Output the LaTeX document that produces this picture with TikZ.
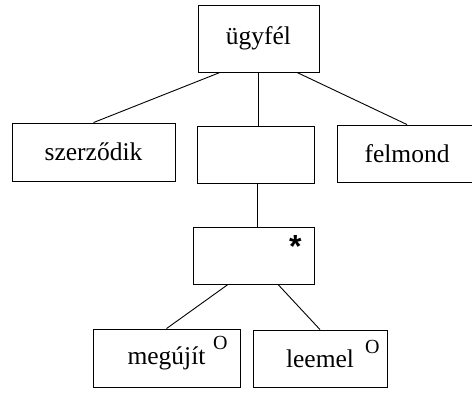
\documentclass[tikz,border=0pt]{standalone}
\usepackage{fontspec}
\setmainfont{Liberation Serif}
\newfontfamily\jelfont{Liberation Sans}
\usetikzlibrary{calc}

\tikzset{
  doboz/.style={draw,line width=0.9bp,inner sep=0pt,font=\fontsize{25.5bp}{30bp}\selectfont},
  jel/.style={inner sep=0pt,font=\fontsize{20bp}{22bp}\selectfont},
  vonal/.style={line width=0.9bp}
}

\begin{document}
\begin{tikzpicture}[x=1bp,y=-1bp]
  \useasboundingbox (0,0) rectangle (472,392);
  % felso szint
  \node[doboz,minimum width=121bp,minimum height=67bp] (ugyfel) at (258.5,38.5) {ügyfél};
  % masodik szint
  \node[doboz,minimum width=163bp,minimum height=58bp] (szerzodik) at (93.5,152) {szerződik};
  \node[doboz,minimum width=117bp,minimum height=57bp] (kozep) at (255.5,154.5) {};
  \node[doboz,minimum width=140bp,minimum height=57bp] (felmond) at (407,153.5) {felmond};
  % ismetles
  \node[doboz,minimum width=121bp,minimum height=57bp] (ismetles) at (253.5,255.5) {};
  \node[jel,anchor=base,font=\jelfont\bfseries\fontsize{32bp}{34bp}\selectfont] (csillag) at ($(ismetles.north east)+(-19,31)$) {*};
  % also szint
  \node[doboz,minimum width=147bp,minimum height=58bp] (megujit) at (166.5,358) {megújít};
  \node[doboz,minimum width=134bp,minimum height=57bp] (leemel) at (320,358.5) {leemel};
  \node[jel] (megujito) at ($(megujit.north east)+(-20,14.5)$) {O};
  \node[jel] (leemelo) at ($(leemel.north east)+(-15,17)$) {O};

  \draw[vonal] ([xshift=-38.5bp]ugyfel.south) -- (szerzodik.north);
  \draw[vonal] (ugyfel.south) -- (ugyfel.south |- kozep.north);
  \draw[vonal] ([xshift=38.5bp]ugyfel.south) -- (felmond.north);
  \draw[vonal] ([xshift=1.5bp]kozep.south) -- ([xshift=1.5bp]kozep.south |- ismetles.north);
  \draw[vonal] ([xshift=-25.5bp]ismetles.south) -- (megujit.north);
  \draw[vonal] ([xshift=24.5bp]ismetles.south) -- (leemel.north);
\end{tikzpicture}
\end{document}
